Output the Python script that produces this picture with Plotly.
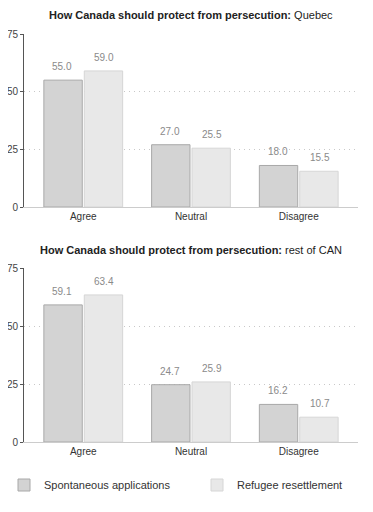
import plotly.graph_objects as go
from plotly.subplots import make_subplots

categories = ["Agree", "Neutral", "Disagree"]
series_names = ["Spontaneous applications", "Refugee resettlement"]
quebec_spontaneous = [55.0, 27.0, 18.0]
quebec_resettlement = [59.0, 25.5, 15.5]
rest_spontaneous = [59.1, 24.7, 16.2]
rest_resettlement = [63.4, 25.9, 10.7]
y_ticks = [0, 25, 50, 75]
titles = [("How Canada should protect from persecution:", "Quebec"),
          ("How Canada should protect from persecution:", "rest of CAN")]

fills = ["#d3d3d3", "#e8e8e8"]
borders = ["#a8a8a8", "#d6d6d6"]
legend_ids = ["legend", "legend2"]
label_xshift = [-21, 21]

fig = make_subplots(rows=2, cols=1)
panels = [(quebec_spontaneous, quebec_resettlement), (rest_spontaneous, rest_resettlement)]
for r, vals in enumerate(panels, start=1):
    for i, v in enumerate(vals):
        fig.add_trace(go.Bar(
            x=categories, y=v, name=series_names[i],
            marker=dict(color=fills[i], line=dict(color=borders[i], width=1)),
            showlegend=(r == 1), legendgroup=series_names[i], legend=legend_ids[i],
        ), row=r, col=1)
        for c, val in zip(categories, v):
            fig.add_annotation(x=c, y=val, text=f"{val:.1f}", showarrow=False,
                               xanchor="center", yanchor="bottom", yshift=6,
                               xshift=label_xshift[i],
                               font=dict(size=10, color="#8a8a8a"), row=r, col=1)

W, H = 373, 512
OFF = 8  # page body margin
L, R = 24 - OFF, W - 358 + OFF
W_PLOT = W - L - R

def py(p):
    return (H - (p - OFF)) / H

def px(p):
    return ((p - OFF) - L) / W_PLOT

legend_common = dict(orientation="h", y=py(485), yanchor="middle",
                     xanchor="left", font=dict(size=11, color="#333"),
                     itemwidth=30, bgcolor="rgba(0,0,0,0)")
fig.update_layout(
    width=W, height=H,
    margin=dict(l=L, r=R, t=0, b=0, autoexpand=False),
    paper_bgcolor="white", plot_bgcolor="white",
    font=dict(family="Liberation Sans, Arial, sans-serif", color="#333"),
    barmode="group", bargap=0.25, bargroupgap=0.05,
    yaxis=dict(domain=[py(207), py(34)]),
    yaxis2=dict(domain=[py(442), py(268)]),
    legend=dict(x=px(4), **legend_common),
    legend2=dict(x=px(197), **legend_common),
)
for ax in ["yaxis", "yaxis2"]:
    fig.layout[ax].update(range=[0, 75], tickvals=y_ticks, showgrid=True,
                          gridcolor="#c8c8c8", griddash="1px,4px", gridwidth=1,
                          showline=True, linecolor="#555", linewidth=1,
                          ticks="outside", ticklen=3, tickcolor="#555",
                          tickfont=dict(size=10, color="#444"), zeroline=False)
for ax in ["xaxis", "xaxis2"]:
    fig.layout[ax].update(range=[-0.55, 2.55], showline=True, linecolor="#cccccc",
                          linewidth=1, tickfont=dict(size=10, color="#333"),
                          ticks="", showgrid=False)

for (bold, normal), ypx in zip(titles, [15, 250]):
    fig.add_annotation(text=f"<b>{bold}</b> {normal}", xref="paper", yref="paper",
                       x=px(191), y=py(ypx), xanchor="center", yanchor="middle",
                       showarrow=False, font=dict(size=11, color="#222"))

fig.write_html("out.html")
